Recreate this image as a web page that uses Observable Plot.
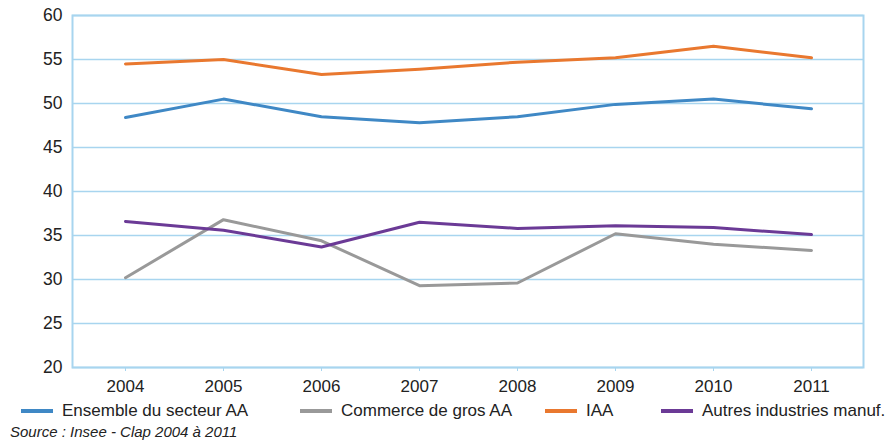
<!DOCTYPE html>
<html>
<head>
<meta charset="utf-8">
<script src="https://cdn.jsdelivr.net/npm/d3@7"></script>
<script src="https://cdn.jsdelivr.net/npm/@observablehq/plot@0.6"></script>
<style>
  body { margin: 0; background: #fff; font-family: "Liberation Sans", Arial, sans-serif; color: #222; }
  #wrap { position: relative; width: 892px; height: 442px; overflow: hidden; }
  #chart { position: absolute; left: 0; top: 0; }
  .leg { position: absolute; top: 401px; font-size: 17px; white-space: nowrap; display: flex; align-items: center; color: #222; }
  .sw { display: inline-block; width: 32px; height: 4px; margin-right: 9px; }
  #source { position: absolute; left: 10px; top: 423px; font-size: 15px; font-style: italic; color: #222; }
</style>
</head>
<body>
<div id="wrap">
  <div id="chart"></div>
  <div id="legend"></div>
  <div id="source">Source : Insee - Clap 2004 à 2011</div>
</div>
<script>
const years = ["2004", "2005", "2006", "2007", "2008", "2009", "2010", "2011"];
const seriesNames = ["Ensemble du secteur AA", "Commerce de gros AA", "IAA", "Autres industries manuf."];
const ensemble = [48.4, 50.5, 48.5, 47.8, 48.5, 49.9, 50.5, 49.4];
const commerce = [30.2, 36.8, 34.4, 29.3, 29.6, 35.2, 34.0, 33.3];
const iaa = [54.5, 55.0, 53.3, 53.9, 54.7, 55.2, 56.5, 55.2];
const autres = [36.6, 35.6, 33.7, 36.5, 35.8, 36.1, 35.9, 35.1];
const yTicks = [20, 25, 30, 35, 40, 45, 50, 55, 60];
const colors = ["#3f88c5", "#999999", "#e9782f", "#6b3a96"];

const valuesBySeries = [ensemble, commerce, iaa, autres];
const data = [];
seriesNames.forEach((s, i) => years.forEach((y, j) => data.push({series: s, year: y, value: valuesBySeries[i][j]})));

const gridColor = "#a8d5ef";

const chart = Plot.plot({
  width: 892,
  height: 397,
  marginTop: 15,
  marginBottom: 30,
  marginLeft: 72,
  marginRight: 29,
  style: { fontFamily: "'Liberation Sans', Arial, sans-serif", fontSize: "17px", color: "#222", background: "#fff" },
  x: { type: "point", domain: years, padding: 0.5, label: null },
  y: { domain: [20, 60], ticks: yTicks, label: null },
  color: { domain: seriesNames, range: colors },
  marks: [
    Plot.gridY(yTicks, { stroke: gridColor, strokeOpacity: 1, strokeWidth: 1.5 }),
    Plot.frame({ stroke: gridColor, strokeWidth: 2 }),
    Plot.axisY(yTicks, { tickSize: 0, tickPadding: 10, fontSize: 17.5, fill: "#222" }),
    Plot.axisX(years, { tickSize: 4, stroke: gridColor, tickPadding: 8, fontSize: 17, fill: "#222" }),
    Plot.line(data, { x: "year", y: "value", z: "series", stroke: "series", strokeWidth: 3 })
  ]
});
document.getElementById("chart").appendChild(chart);

const legendX = [21, 300, 545, 661];
const leg = document.getElementById("legend");
seriesNames.forEach((s, i) => {
  const d = document.createElement("div");
  d.className = "leg";
  d.style.left = legendX[i] + "px";
  d.innerHTML = `<span class="sw" style="background:${colors[i]}"></span><span>${s}</span>`;
  leg.appendChild(d);
});
</script>
</body>
</html>
